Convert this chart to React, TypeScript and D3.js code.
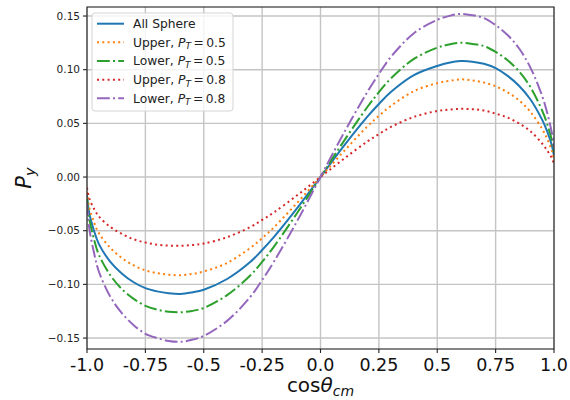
import React from "react";
import * as d3 from "d3";

const xs = [-1, -0.99, -0.97, -0.95, -0.9, -0.85, -0.8, -0.75, -0.7, -0.65, -0.6, -0.55, -0.5, -0.4, -0.3, -0.25, -0.2, -0.1, 0, 0.1, 0.2, 0.25, 0.3, 0.4, 0.5, 0.55, 0.6, 0.65, 0.7, 0.75, 0.8, 0.85, 0.9, 0.95, 0.97, 0.99, 1];

const allSphere = [-0.017, -0.034, -0.050, -0.062, -0.079, -0.090, -0.098, -0.1035, -0.1065, -0.1083, -0.109, -0.1075, -0.105, -0.095, -0.079, -0.068, -0.056, -0.029, 0, 0.029, 0.056, 0.068, 0.079, 0.095, 0.1035, 0.1065, 0.108, 0.1075, 0.1055, 0.1015, 0.0945, 0.085, 0.072, 0.053, 0.043, 0.030, 0.020];
const upper05 = [-0.014, -0.029, -0.042, -0.052, -0.066, -0.0756, -0.0823, -0.087, -0.0895, -0.091, -0.0915, -0.0903, -0.088, -0.080, -0.066, -0.057, -0.047, -0.024, 0, 0.024, 0.047, 0.057, 0.066, 0.080, 0.0875, 0.0895, 0.091, 0.090, 0.088, 0.0845, 0.079, 0.0715, 0.0605, 0.0445, 0.036, 0.025, 0.016];
const lower05 = [-0.020, -0.039, -0.058, -0.072, -0.0915, -0.1045, -0.1135, -0.120, -0.1235, -0.1256, -0.126, -0.1247, -0.122, -0.110, -0.0915, -0.079, -0.065, -0.0335, 0, 0.0335, 0.065, 0.079, 0.0915, 0.110, 0.1205, 0.1235, 0.125, 0.124, 0.122, 0.1165, 0.109, 0.0985, 0.0835, 0.0615, 0.050, 0.035, 0.023];
const upper08 = [-0.010, -0.020, -0.0295, -0.0365, -0.0465, -0.053, -0.058, -0.061, -0.063, -0.0639, -0.064, -0.0634, -0.062, -0.056, -0.0465, -0.040, -0.033, -0.017, 0, 0.017, 0.033, 0.040, 0.0465, 0.056, 0.0615, 0.0628, 0.0635, 0.0632, 0.062, 0.059, 0.0555, 0.050, 0.0425, 0.031, 0.025, 0.018, 0.012];
const lower08 = [-0.024, -0.048, -0.0705, -0.0875, -0.1115, -0.127, -0.138, -0.146, -0.150, -0.1527, -0.1535, -0.1516, -0.148, -0.134, -0.1115, -0.096, -0.079, -0.041, 0, 0.041, 0.079, 0.096, 0.1115, 0.134, 0.1465, 0.150, 0.152, 0.1508, 0.148, 0.1415, 0.1325, 0.120, 0.1015, 0.075, 0.0605, 0.042, 0.028];

const xTicks = [-1, -0.75, -0.5, -0.25, 0, 0.25, 0.5, 0.75, 1];
const xTickLabels = ["-1.0", "-0.75", "-0.5", "-0.25", "0.0", "0.25", "0.5", "0.75", "1.0"];
const yTicks = [-0.15, -0.1, -0.05, 0, 0.05, 0.1, 0.15];
const yTickLabels = ["\u22120.15", "\u22120.10", "\u22120.05", "0.00", "0.05", "0.10", "0.15"];

const seriesNames = ["All Sphere", "Upper", "Lower", "Upper", "Lower"];
const seriesPT = [null, "0.5", "0.5", "0.8", "0.8"];
const seriesValues = [allSphere, upper05, lower05, upper08, lower08];
const seriesColors = ["#1f77b4", "#ff7f0e", "#2ca02c", "#d62728", "#9467bd"];
const seriesDash = [null, "2,3.3", "12.8,3.2,2,3.2", "2,3.3", "12.8,3.2,2,3.2"];

const FONT = "DejaVu Sans, sans-serif";

export default function App() {
  const W = 570, H = 400;
  const left = 87, right = 554, top = 7, bottom = 349;
  const x = d3.scaleLinear().domain([-1, 1]).range([left, right]);
  const y = d3.scaleLinear().domain([-0.1602, 0.1584]).range([bottom, top]);
  const line = d3
    .line<number>()
    .x((_, i) => x(xs[i]))
    .y((d) => y(d))
    .curve(d3.curveCatmullRom.alpha(0.5));

  const legX = 92, legY = 13, legW = 141, legH = 98;
  const rowY = (i: number) => 23.7 + i * 18.65;

  return (
    <svg width={W} height={H} style={{ position: "absolute", left: 0, top: 0, background: "#fff" }} fontFamily={FONT}>
      <rect x={0} y={0} width={W} height={H} fill="#fff" />
      <defs>
        <clipPath id="plotclip">
          <rect x={left} y={top} width={right - left} height={bottom - top} />
        </clipPath>
      </defs>
      {xTicks.map((t, i) => (
        <line key={"gx" + i} x1={x(t)} x2={x(t)} y1={top} y2={bottom} stroke="#c4c4c4" strokeWidth={1.4} />
      ))}
      {yTicks.map((t, i) => (
        <line key={"gy" + i} x1={left} x2={right} y1={y(t)} y2={y(t)} stroke="#c4c4c4" strokeWidth={1.4} />
      ))}
      <g clipPath="url(#plotclip)">
        {seriesValues.map((vals, i) => (
          <path
            key={"s" + i}
            d={line(vals) || ""}
            fill="none"
            stroke={seriesColors[i]}
            strokeWidth={2}
            strokeDasharray={seriesDash[i] || undefined}
          />
        ))}
      </g>
      <rect x={left} y={top} width={right - left} height={bottom - top} fill="none" stroke="#222" strokeWidth={1.1} />
      {xTicks.map((t, i) => (
        <g key={"xt" + i}>
          <line x1={x(t)} x2={x(t)} y1={bottom} y2={bottom + 4} stroke="#222" strokeWidth={1.1} />
          <text x={x(t)} y={371} textAnchor="middle" fontSize={17.5} fill="#111">
            {xTickLabels[i]}
          </text>
        </g>
      ))}
      {yTicks.map((t, i) => (
        <g key={"yt" + i}>
          <line x1={left - 4} x2={left} y1={y(t)} y2={y(t)} stroke="#222" strokeWidth={1.1} />
          <text x={left - 7} y={y(t)} dy="0.36em" textAnchor="end" fontSize={10.5} fill="#222">
            {yTickLabels[i]}
          </text>
        </g>
      ))}
      <text x={(left + right) / 2} y={392} textAnchor="middle" fontSize={20} fill="#111">
        cos<tspan fontStyle="italic">θ</tspan>
        <tspan fontStyle="italic" fontSize={14} dy={4}>cm</tspan>
      </text>
      <text transform={`translate(31, ${(top + bottom) / 2}) rotate(-90)`} textAnchor="middle" fontSize={21} fill="#111">
        <tspan fontStyle="italic">P</tspan>
        <tspan fontStyle="italic" fontSize={14.5} dy={4}>y</tspan>
      </text>
      <rect x={legX} y={legY} width={legW} height={legH} rx={3} fill="#fff" fillOpacity={0.8} stroke="#d5d5d5" strokeWidth={1} />
      {seriesNames.map((name, i) => (
        <g key={"lg" + i}>
          <line
            x1={97}
            x2={124}
            y1={rowY(i)}
            y2={rowY(i)}
            stroke={seriesColors[i]}
            strokeWidth={2}
            strokeDasharray={seriesDash[i] || undefined}
          />
          <text x={133} y={rowY(i)} dy="0.36em" fontSize={12.3} fill="#222">
            {seriesPT[i] === null ? (
              name
            ) : (
              <>
                {name + ", "}
                <tspan fontStyle="italic">P</tspan>
                <tspan fontStyle="italic" fontSize={9} dy={2.5}>T</tspan>
                <tspan dy={-2.5}>{"\u2009=\u2009" + seriesPT[i]}</tspan>
              </>
            )}
          </text>
        </g>
      ))}
    </svg>
  );
}
